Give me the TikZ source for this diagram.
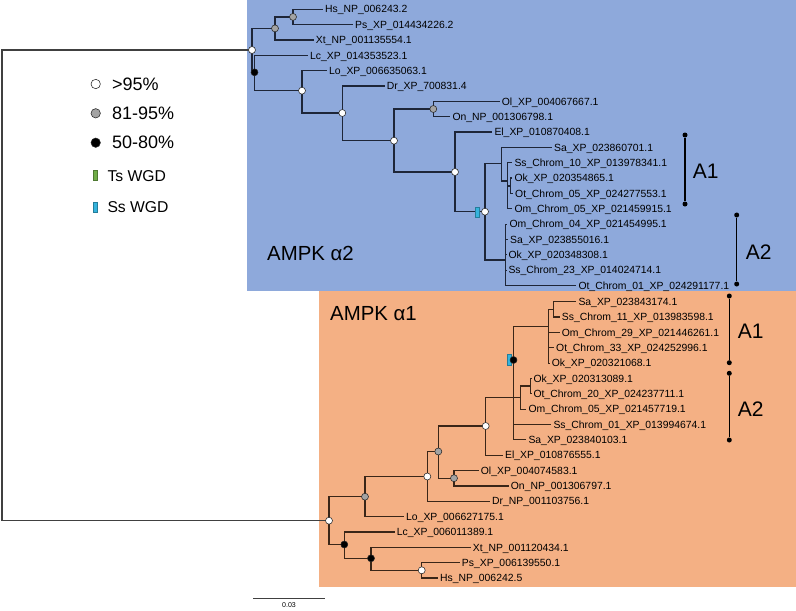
\documentclass[tikz,border=0pt]{standalone}
\usepackage{fontspec}
\setmainfont{Liberation Sans}
\definecolor{bgblue}{HTML}{8EA9DB}
\definecolor{bgorange}{HTML}{F4B084}
\definecolor{blueln}{HTML}{1E2638}
\definecolor{orangeln}{HTML}{3A2618}
\definecolor{rootln}{HTML}{404040}
\definecolor{ssc}{HTML}{35B3DC}
\definecolor{tsc}{HTML}{70AD47}
\definecolor{gnode}{HTML}{A3A3A3}
\begin{document}
\begin{tikzpicture}[x=1pt,y=-1pt,
  lab/.style={anchor=west, inner sep=0pt, font=\fontsize{10.4}{12}\selectfont, text height=7.45pt, text depth=0pt},
  biglab/.style={anchor=west, inner sep=0pt, font=\fontsize{21}{24}\selectfont, text height=15pt, text depth=0pt},
  cladelab/.style={anchor=west, inner sep=0pt, font=\fontsize{20.4}{24}\selectfont, text height=14.6pt, text depth=0pt},
  keylab/.style={anchor=west, inner sep=0pt, font=\fontsize{18}{21}\selectfont, text height=12.9pt, text depth=0pt},
  wgdlab/.style={anchor=west, inner sep=0pt, font=\fontsize{15.7}{19}\selectfont, text height=11.3pt, text depth=0pt},
  bl/.style={draw=blueln, line width=1.2pt},
  ol/.style={draw=orangeln, line width=1.2pt},
  rl/.style={draw=rootln, line width=1.2pt},
  dotbase/.style={circle, inner sep=0pt, minimum size=7pt, draw=black!85, line width=0.55pt},
  wdot/.style={dotbase, fill=white},
  gdot/.style={dotbase, fill=gnode},
  kdot/.style={dotbase, fill=black},
  brdot/.style={circle, inner sep=0pt, minimum size=5pt, fill=black},
  brline/.style={draw=black, line width=1.4pt},
  ssbox/.style={rectangle, inner sep=0pt, minimum width=4pt, minimum height=10.5pt, fill=ssc, draw=ssc!70!black, line width=0.3pt},
  tsbox/.style={rectangle, inner sep=0pt, minimum width=4pt, minimum height=10.5pt, fill=tsc, draw=tsc!70!black, line width=0.3pt}
]
\useasboundingbox (0,0) rectangle (796,611);
\fill[white] (0,0) rectangle (796,611);
% clade backgrounds
\fill[bgblue] (247,0) rectangle (796,291);
\fill[bgorange] (319,291) rectangle (796,587);

% ---------- blue leaves ----------
\node[lab] (lHs) at (325,9.2) {Hs\_NP\_006243.2};
\node[lab] (lPs) at (355,24.6) {Ps\_XP\_014434226.2};
\node[lab] (lXt) at (315.7,39.9) {Xt\_NP\_001135554.1};
\node[lab] (lLc) at (310,55.3) {Lc\_XP\_014353523.1};
\node[lab] (lLo) at (329,70.6) {Lo\_XP\_006635063.1};
\node[lab] (lDr) at (386.7,86) {Dr\_XP\_700831.4};
\node[lab] (lOl) at (501.7,101.3) {Ol\_XP\_004067667.1};
\node[lab] (lOn) at (452.3,116.7) {On\_NP\_001306798.1};
\node[lab] (lEl) at (494.3,132) {El\_XP\_010870408.1};
\node[lab] (lSa) at (554,147.3) {Sa\_XP\_023860701.1};
\node[lab] (lSs) at (514.3,162.6) {Ss\_Chrom\_10\_XP\_013978341.1};
\node[lab] (lOk) at (514.3,178) {Ok\_XP\_020354865.1};
\node[lab] (lOt) at (515,193.3) {Ot\_Chrom\_05\_XP\_024277553.1};
\node[lab] (lOm) at (514.3,208.7) {Om\_Chrom\_05\_XP\_021459915.1};
\node[lab] (lOmb) at (509.3,224.1) {Om\_Chrom\_04\_XP\_021454995.1};
\node[lab] (lSab) at (510,239.4) {Sa\_XP\_023855016.1};
\node[lab] (lOkb) at (508.3,254.8) {Ok\_XP\_020348308.1};
\node[lab] (lSsb) at (508.3,270.2) {Ss\_Chrom\_23\_XP\_014024714.1};
\node[lab] (lOtb) at (578.3,285.6) {Ot\_Chrom\_01\_XP\_024291177.1};

% ---------- orange leaves ----------
\node[lab] (oSa) at (578.3,301.5) {Sa\_XP\_023843174.1};
\node[lab] (oSs) at (561.7,317) {Ss\_Chrom\_11\_XP\_013983598.1};
\node[lab] (oOm) at (561.7,332.4) {Om\_Chrom\_29\_XP\_021446261.1};
\node[lab] (oOt) at (556,347.7) {Ot\_Chrom\_33\_XP\_024252996.1};
\node[lab] (oOk) at (551.7,363.1) {Ok\_XP\_020321068.1};
\node[lab] (oOkb) at (533.3,378.4) {Ok\_XP\_020313089.1};
\node[lab] (oOtb) at (533.3,393.8) {Ot\_Chrom\_20\_XP\_024237711.1};
\node[lab] (oOmb) at (528.3,409.1) {Om\_Chrom\_05\_XP\_021457719.1};
\node[lab] (oSsb) at (553.3,424.5) {Ss\_Chrom\_01\_XP\_013994674.1};
\node[lab] (oSab) at (528.3,439.8) {Sa\_XP\_023840103.1};
\node[lab] (oEl) at (505,455.2) {El\_XP\_010876555.1};
\node[lab] (oOl) at (480.7,470.5) {Ol\_XP\_004074583.1};
\node[lab] (oOn) at (510.7,485.9) {On\_NP\_001306797.1};
\node[lab] (oDr) at (492,501.2) {Dr\_NP\_001103756.1};
\node[lab] (oLo) at (406,516.6) {Lo\_XP\_006627175.1};
\node[lab] (oLc) at (396.7,531.9) {Lc\_XP\_006011389.1};
\node[lab] (oXt) at (472.7,547.3) {Xt\_NP\_001120434.1};
\node[lab] (oPs) at (461.7,562.6) {Ps\_XP\_006139550.1};
\node[lab] (oHs) at (440,578) {Hs\_NP\_006242.5};

% ---------- internal coordinates ----------
\coordinate (RT) at (2,285);
\coordinate (B0) at (252,50);
\coordinate (B1) at (275,28.4);
\coordinate (B2) at (293,16.9);
\coordinate (B3) at (254.5,72.3);
\coordinate (B4) at (302,90.7);
\coordinate (B5) at (342.3,113);
\coordinate (B6) at (394,140.7);
\coordinate (B7) at (433.3,109);
\coordinate (B8) at (455,172);
\coordinate (B9) at (485,211.7);
\coordinate (BQ) at (501.7,163.3);
\coordinate (BR) at (507.3,181);
\coordinate (BS) at (510.5,186);
\coordinate (BT) at (505.5,260);
\coordinate (BU) at (505.5,235);

\coordinate (O0) at (329,520.7);
\coordinate (O1) at (365,496.7);
\coordinate (O2) at (427.3,476.5);
\coordinate (O3) at (438.3,451.5);
\coordinate (O4) at (454,478.2);
\coordinate (O5) at (485.7,426);
\coordinate (OW) at (513.5,397.3);
\coordinate (OX) at (513.5,360);
\coordinate (OZ) at (548.3,326.7);
\coordinate (OZP) at (553.3,309.3);
\coordinate (OY) at (520.7,397.3);
\coordinate (OYP) at (530.7,386);
\coordinate (O6) at (344.3,544.5);
\coordinate (O7) at (371,558.3);
\coordinate (O8) at (421.7,570.3);

% ---------- root ----------
\draw[rl] (RT) |- (B0);
\draw[rl] (RT) |- (O0);

% ---------- blue branches ----------
\draw[bl] (B0) |- (B1);
\draw[bl] (B0) |- (B3);
\draw[bl] (B1) |- (B2);
\draw[bl] (B1) |- ([xshift=-2pt]lXt.west);
\draw[bl] (B2) |- ([xshift=-2pt]lHs.west);
\draw[bl] (B2) |- ([xshift=-2pt]lPs.west);
\draw[bl] (B3) |- ([xshift=-2pt]lLc.west);
\draw[bl] (B3) |- (B4);
\draw[bl] (B4) |- ([xshift=-2pt]lLo.west);
\draw[bl] (B4) |- (B5);
\draw[bl] (B5) |- ([xshift=-2pt]lDr.west);
\draw[bl] (B5) |- (B6);
\draw[bl] (B6) |- (B7);
\draw[bl] (B6) |- (B8);
\draw[bl] (B7) |- ([xshift=-2pt]lOl.west);
\draw[bl] (B7) |- ([xshift=-2pt]lOn.west);
\draw[bl] (B8) |- ([xshift=-2pt]lEl.west);
\draw[bl] (B8) |- (B9);
\draw[bl] (B9) |- (BQ);
\draw[bl] (B9) |- (BT);
\draw[bl] (BQ) |- ([xshift=-2pt]lSa.west);
\draw[bl] (BQ) |- (BR);
\draw[bl] (BR) |- ([xshift=-2pt]lSs.west);
\draw[bl] (BR) |- (BS);
\draw[bl] (BR) |- ([xshift=-2pt]lOm.west);
\draw[bl] (BS) |- ([xshift=-2pt]lOk.west);
\draw[bl] (BS) |- ([xshift=-2pt]lOt.west);
\draw[bl] (BT) |- (BU);
\draw[bl] (BT) |- ([xshift=-2pt]lOtb.west);
\draw[bl] (BU) |- ([xshift=-2pt]lOmb.west);
\draw[bl] (BU) |- ([xshift=-2pt]lSab.west);
\draw[bl] (BU) |- ([xshift=-2pt]lOkb.west);
\draw[bl] (BU) |- ([xshift=-2pt]lSsb.west);

% ---------- orange branches ----------
\draw[ol] (O0) |- (O1);
\draw[ol] (O0) |- (O6);
\draw[ol] (O1) |- (O2);
\draw[ol] (O1) |- ([xshift=-2pt]oLo.west);
\draw[ol] (O2) |- (O3);
\draw[ol] (O2) |- ([xshift=-2pt]oDr.west);
\draw[ol] (O3) |- (O5);
\draw[ol] (O3) |- (O4);
\draw[ol] (O4) |- ([xshift=-2pt]oOl.west);
\draw[ol] (O4) |- ([xshift=-2pt]oOn.west);
\draw[ol] (O5) |- (OW);
\draw[ol] (O5) |- ([xshift=-2pt]oEl.west);
\draw[ol] (OW) |- (OX);
\draw[ol] (OW) |- (OY);
\draw[ol] (OW) |- ([xshift=-2pt]oSsb.west);
\draw[ol] (OW) |- ([xshift=-2pt]oSab.west);
\draw[ol] (OX) |- (OZ);
\draw[ol] (OZ) |- (OZP);
\draw[ol] (OZ) |- ([xshift=-2pt]oOm.west);
\draw[ol] (OZ) |- ([xshift=-2pt]oOt.west);
\draw[ol] (OZ) |- ([xshift=-2pt]oOk.west);
\draw[ol] (OZP) |- ([xshift=-2pt]oSa.west);
\draw[ol] (OZP) |- ([xshift=-2pt]oSs.west);
\draw[ol] (OY) |- (OYP);
\draw[ol] (OY) |- ([xshift=-2pt]oOmb.west);
\draw[ol] (OYP) |- ([xshift=-2pt]oOkb.west);
\draw[ol] (OYP) |- ([xshift=-2pt]oOtb.west);
\draw[ol] (O6) |- ([xshift=-2pt]oLc.west);
\draw[ol] (O6) |- (O7);
\draw[ol] (O7) |- ([xshift=-2pt]oXt.west);
\draw[ol] (O7) |- (O8);
\draw[ol] (O8) |- ([xshift=-2pt]oPs.west);
\draw[ol] (O8) |- ([xshift=-2pt]oHs.west);

% ---------- WGD markers ----------
\node[ssbox] (mB) at (477.3,212) {};
\node[ssbox] (mO) at (508.7,359.8) {};

% ---------- support dots ----------
\node[wdot] (dB0) at (B0) {};
\node[gdot] (dB1) at (B1) {};
\node[gdot] (dB2) at (B2) {};
\node[kdot] (dB3) at (B3) {};
\node[wdot] (dB4) at (B4) {};
\node[wdot] (dB5) at (B5) {};
\node[wdot] (dB6) at (B6) {};
\node[gdot] (dB7) at (B7) {};
\node[wdot] (dB8) at (B8) {};
\node[wdot] (dB9) at (B9) {};
\node[wdot] (dO0) at (O0) {};
\node[gdot] (dO1) at (O1) {};
\node[wdot] (dO2) at (O2) {};
\node[gdot] (dO3) at (O3) {};
\node[gdot] (dO4) at (O4) {};
\node[wdot] (dO5) at (O5) {};
\node[kdot] (dOX) at (OX) {};
\node[kdot] (dO6) at (O6) {};
\node[kdot] (dO7) at (O7) {};
\node[wdot] (dO8) at (O8) {};

% ---------- clade brackets ----------
\node[brdot] (a1t) at (685,135) {};
\node[brdot] (a1b) at (685,204) {};
\draw[brline] (a1t) -- (a1b);
\node[biglab] (a1l) at (692.7,170.8) {A1};
\node[brdot] (a2t) at (736.7,215) {};
\node[brdot] (a2b) at (736.7,284) {};
\draw[brline] (a2t) -- (a2b);
\node[biglab] (a2l) at (745.7,251.7) {A2};
\node[brdot] (c1t) at (729.3,296) {};
\node[brdot] (c1b) at (729.3,362.7) {};
\draw[brline] (c1t) -- (c1b);
\node[biglab] (c1l) at (737.7,330.8) {A1};
\node[brdot] (c2t) at (729.3,373.3) {};
\node[brdot] (c2b) at (729.3,440) {};
\draw[brline] (c2t) -- (c2b);
\node[biglab] (c2l) at (737.7,409.2) {A2};

% ---------- clade names ----------
\node[cladelab] (n2) at (267,253.3) {AMPK α2};
\node[cladelab] (n1) at (330,313.3) {AMPK α1};

% ---------- legend ----------
\node[wdot, minimum size=9.4pt] (k1) at (95.7,84) {};
\node[keylab] (k1t) at (112,84) {>95\%};
\node[gdot, minimum size=9.4pt] (k2) at (95.7,113.3) {};
\node[keylab] (k2t) at (112,112.8) {81-95\%};
\node[kdot, minimum size=9.4pt] (k3) at (95.7,142.7) {};
\node[keylab] (k3t) at (112,142) {50-80\%};
\node[tsbox] (k4) at (95.3,175.3) {};
\node[wgdlab] (k4t) at (107.3,175.5) {Ts WGD};
\node[ssbox] (k5) at (95.3,207.2) {};
\node[wgdlab] (k5t) at (107.3,207.2) {Ss WGD};

% ---------- scale bar ----------
\coordinate (s1) at (253,598);
\coordinate (s2) at (325,598);
\draw[draw=rootln, line width=0.9pt] (s1) -- (s2);
\node[inner sep=0pt, font=\fontsize{7}{8}\selectfont] (sl) at (289,605.5) {0.03};
\end{tikzpicture}
\end{document}
